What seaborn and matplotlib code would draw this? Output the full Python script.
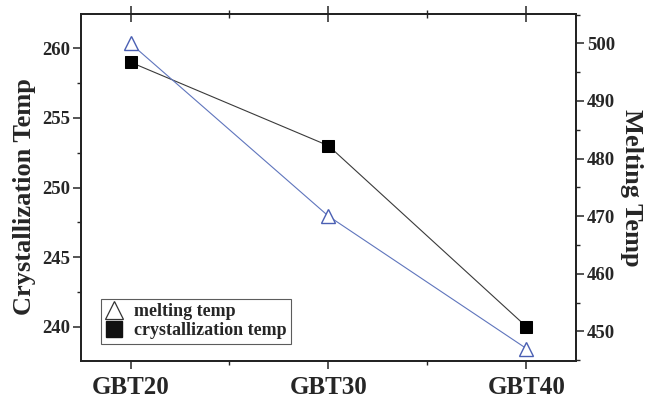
import matplotlib
matplotlib.use("Agg")
import matplotlib.pyplot as plt
from matplotlib.lines import Line2D
from matplotlib.ticker import MultipleLocator, NullFormatter
import pandas as pd
import seaborn as sns

# data
samples = ["GBT20", "GBT30", "GBT40"]
crystallization_temp = [259.0, 253.0, 240.0]
melting_temp = [500.0, 470.0, 447.0]

sns.set_style("ticks")
plt.rcParams["font.family"] = ["Liberation Serif", "DejaVu Serif"]
plt.rcParams["font.weight"] = "bold"

df = pd.DataFrame({"sample": samples,
                   "cryst": crystallization_temp,
                   "melt": melting_temp})

fig = plt.figure(figsize=(6.46, 4.01), dpi=100)
ax = fig.add_axes([0.1254, 0.0998, 0.7662, 0.8652])
ax2 = ax.twinx()

sns.lineplot(data=df, x="sample", y="cryst", ax=ax, color="#3a3a3a",
             linewidth=0.8, marker="s", markersize=8, markerfacecolor="black",
             markeredgecolor="black", sort=False)
sns.lineplot(data=df, x="sample", y="melt", ax=ax2, color="#5f75bd",
             linewidth=0.8, marker="^", markersize=10, markerfacecolor="white",
             markeredgecolor="#4a5fb3", markeredgewidth=1.0, sort=False)

ax.set_xlim(-0.25, 2.25)
ax.set_ylim(237.54, 262.46)
ax2.set_ylim(444.85, 505.1)

ax.yaxis.set_major_locator(MultipleLocator(5))
ax.yaxis.set_minor_locator(MultipleLocator(2.5))
ax2.yaxis.set_major_locator(MultipleLocator(10))
ax2.yaxis.set_minor_locator(MultipleLocator(5))
ax.xaxis.set_minor_locator(MultipleLocator(0.5))

ax.set_xlabel("")
ax.set_ylabel("Crystallization Temp", fontsize=19, fontweight="bold")
ax.yaxis.set_label_coords(-0.09, 0.473)
ax2.set_ylabel("Melting Temp", fontsize=19, fontweight="bold", rotation=-90)
ax2.yaxis.set_label_coords(1.136, 0.5)

for a in (ax, ax2):
    for s in a.spines.values():
        s.set_visible(True)
        s.set_linewidth(1.3)
        s.set_color("#222222")

ax.tick_params(axis="y", which="major", direction="out", length=6, width=1.1,
               labelsize=13.5, pad=2)
ax.tick_params(axis="y", which="minor", direction="out", length=3, width=1.0)
ax2.tick_params(axis="y", which="major", direction="out", length=6, width=1.1,
                labelsize=13.5, pad=2)
ax2.tick_params(axis="y", which="minor", direction="out", length=3, width=1.0)
ax.tick_params(axis="x", which="major", direction="out", length=6, width=1.1,
               labelsize=18, pad=5, top=False)
ax.tick_params(axis="x", which="minor", direction="out", length=3, width=1.0,
               top=False)

# top ticks cross the spine: use the twin's x axis for them
ax2.xaxis.set_visible(True)
ax2.xaxis.set_minor_locator(MultipleLocator(0.5))
ax2.xaxis.set_minor_formatter(NullFormatter())
ax2.tick_params(axis="x", which="major", direction="inout", length=11,
                width=1.1, top=True, bottom=False, labeltop=False,
                labelbottom=False)
ax2.tick_params(axis="x", which="minor", direction="inout", length=6,
                width=1.0, top=True, bottom=False)
ax2.set_xlabel("")

for lab in ax.get_xticklabels() + ax.get_yticklabels() + ax2.get_yticklabels():
    lab.set_fontweight("bold")

handles = [
    Line2D([], [], linestyle="none", marker="^", markersize=13,
           markerfacecolor="white", markeredgecolor="#333333",
           markeredgewidth=0.9, label="melting temp"),
    Line2D([], [], linestyle="none", marker="s", markersize=11,
           markerfacecolor="#111111", markeredgecolor="#111111",
           label="crystallization temp"),
]
leg = ax.legend(handles=handles, loc="lower left", bbox_to_anchor=(0.04, 0.05),
                frameon=True, fancybox=False, edgecolor="#333333",
                prop={"size": 13, "weight": "bold"}, handlelength=1.0,
                handletextpad=0.6, borderpad=0.25, labelspacing=0.1,
                borderaxespad=0)
leg.get_frame().set_linewidth(0.8)
if ax2.get_legend():
    ax2.get_legend().remove()

fig.savefig("out.png", dpi=100, facecolor="white")
